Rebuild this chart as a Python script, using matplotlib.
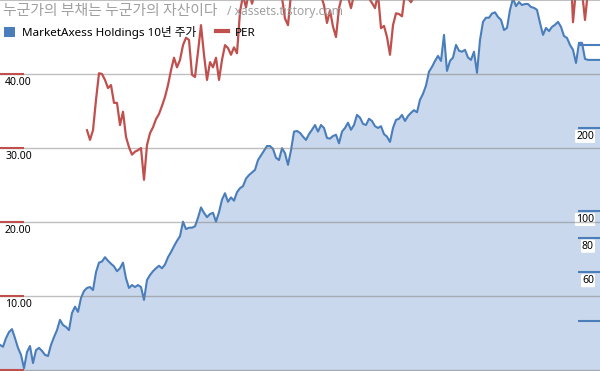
import numpy as np
import matplotlib
matplotlib.use("Agg")
import matplotlib.pyplot as plt
from matplotlib.patches import Patch
from matplotlib.lines import Line2D
from matplotlib.ticker import NullLocator

plt.rcParams['font.family'] = ['Noto Sans', 'Noto Sans CJK KR', 'DejaVu Sans']

# MarketAxess 주가 (달러, 로그축) - 대략 2~3주 간격
price = [32.7, 32.2, 34.6, 36.4, 37.3, 34.6, 31.9, 30.1, 26.9, 30.8,
         32.4, 28.1, 31.3, 31.9, 31.1, 30.1, 29.8, 32.7, 34.9, 37.0,
         40.3, 38.6, 38.0, 37.0, 42.7, 45.0, 43.1, 48.4, 51.3, 52.6,
         53.0, 51.7, 60.0, 65.0, 65.6, 68.0, 66.0, 64.4, 63.0, 60.5,
         62.0, 65.0, 57.0, 52.6, 53.9, 53.0, 53.9, 53.0, 47.6, 56.2,
         58.6, 60.5, 62.0, 63.3, 62.0, 64.0, 68.0, 71.0, 74.5, 78.0,
         81.0, 91.5, 86.0, 87.0, 87.0, 88.0, 94.5, 103, 98.5, 95.0,
         97.5, 98.5, 91.5, 99.0, 110, 116, 108, 112, 109, 117,
         121, 123, 131, 135, 138, 141, 153, 159, 165, 172,
         172, 168, 156, 153, 169, 162, 147, 166, 194, 195,
         192, 186, 181, 190, 197, 205, 194, 205, 200, 184,
         183, 187, 189, 176, 194, 200, 209, 197, 205, 223,
         218, 207, 205, 216, 212, 203, 200, 203, 190, 186,
         178, 200, 214, 216, 223, 212, 221, 227, 232, 228,
         253, 266, 285, 320, 333, 350, 365, 350, 435, 322,
         350, 360, 400, 381, 378, 384, 360, 353, 378, 317,
         417, 485, 502, 502, 520, 525, 505, 493, 453, 461,
         536, 590, 553, 572, 558, 563, 563, 549, 545, 536,
         481, 435, 461, 449, 465, 473, 485, 465, 431, 424,
         400, 384, 344, 407, 407, 356, 353, 353, 353, 353,
         353]

# PER (첫 값은 30번째 시점부터)
per_first = 29
per = [32.4, 31.1, 32.4, 36.5, 40.1, 40.0, 39.2, 38.1, 38.5, 36.1,
       36.1, 33.1, 34.9, 31.5, 30.1, 29.1, 29.5, 29.7, 30.0, 25.7,
       30.4, 32.0, 32.8, 33.9, 34.6, 35.7, 36.9, 38.5, 40.5, 42.2,
       40.9, 41.9, 43.9, 44.9, 44.6, 39.9, 39.6, 43.0, 46.6, 42.6,
       39.2, 41.6, 40.9, 42.2, 39.2, 41.9, 43.9, 43.5, 42.6, 43.6,
       42.8, 48.4, 50.6, 49.0, 51.2, 49.5, 51.0, 53.5, 55.0, 54.2,
       56.0, 55.1, 53.8, 52.9, 51.4, 50.3, 47.5, 46.6, 50.8, 52.6,
       54.0, 55.8, 57.1, 55.3, 53.7, 52.4, 53.9, 52.0, 50.6, 49.3,
       46.9, 48.6, 46.4, 45.0, 48.9, 50.5, 51.8, 50.4, 48.9, 50.7,
       52.2, 53.6, 52.1, 51.3, 50.2, 49.6, 48.9, 50.8, 46.2, 46.5,
       45.0, 42.6, 46.6, 48.2, 48.1, 47.8, 51.0, 50.2, 49.7, 50.4,
       51.5, 53.2, 55.4, 57.0, 58.3, 59.6, 61.2, 60.4, 62.0, 63.5,
       61.8, 62.7, 64.0, 65.3, 64.1, 63.2, 62.5, 61.0, 60.2, 61.4,
       58.9, 62.3, 65.0, 66.8, 67.4, 68.1, 68.5, 67.2, 66.0, 63.4,
       64.2, 68.8, 71.0, 69.5, 70.4, 69.8, 70.1, 69.9, 69.0, 68.6,
       68.2, 65.5, 62.8, 63.9, 62.1, 63.0, 63.6, 64.4, 62.9, 60.7,
       59.8, 56.3, 47.0, 51.5, 52.4, 51.2, 47.3, 51.3, 53.0, 54.1,
       53.6, 53.9]

per_ticks = [0, 10, 20, 30, 40]
per_labels = ['', '10.00', '20.00', '30.00', '40.00']
price_ticks = [40, 60, 80, 100, 200, 400]
price_labels = ['', '60', '80', '100', '200', '']

blue = '#4a7ebb'
red = '#c0504d'

x_price = np.arange(len(price))
x_per = np.arange(per_first, per_first + len(per))

fig = plt.figure(figsize=(6, 3.71), dpi=100)
ax = fig.add_axes([0, 0, 1, 1])
ax2 = ax.twinx()

# 주가 (오른쪽 로그축)
ax.fill_between(x_price, price, 1, color='#c9d8ec', lw=0)
ax.plot(x_price, price, color=blue, lw=1.5)
ax.set_yscale('log')
ax.set_ylim(26.3, 582)
ax.set_xlim(0, len(price) - 1)
ax.yaxis.set_minor_locator(NullLocator())
ax.set_yticks(price_ticks)
ax.set_yticklabels([])
ax.yaxis.tick_right()
ax.tick_params(axis='y', direction='in', length=15.8, width=1.5, color=blue)
ax.set_xticks([])
for v, lab in zip(price_ticks, price_labels):
    if lab:
        ax.annotate(lab, xy=(1, v), xycoords=ax.get_yaxis_transform(),
                    xytext=(-6, -3), textcoords='offset pixels',
                    ha='right', va='top', fontsize=7.5, color='black',
                    bbox=dict(boxstyle='round,pad=0.1', fc='white', ec='none'))

# PER (왼쪽축)
ax2.plot(x_per, per, color=red, lw=1.6)
ax2.set_ylim(-0.135, 50)
ax2.yaxis.tick_left()
ax2.set_yticks(per_ticks)
ax2.set_yticklabels([])
ax2.tick_params(axis='y', direction='in', length=17.3, width=1.5, color=red)
ax2.grid(axis='y', color='#808080', alpha=0.5, lw=1)
ax2.axhline(50, color='#808080', alpha=0.5, lw=1.5)
for v, lab in zip(per_ticks, per_labels):
    if lab:
        ax2.annotate(lab, xy=(0, v), xycoords=ax2.get_yaxis_transform(),
                     xytext=(5, -3), textcoords='offset pixels',
                     ha='left', va='top', fontsize=7.5, color='black')

for a in (ax, ax2):
    for s in a.spines.values():
        s.set_visible(False)

handles = [Patch(facecolor=blue, edgecolor='none'),
           Line2D([], [], color=red, lw=3)]
ax2.legend(handles, ['MarketAxess Holdings 10년 주가', 'PER'],
           loc='upper left', bbox_to_anchor=(0.006, 0.93), ncol=2,
           frameon=False, fontsize=8.4, handlelength=1.0, handleheight=1.0,
           handletextpad=0.6, columnspacing=1.7, borderpad=0, borderaxespad=0)

fig.text(3 / 600, 1 - 11 / 371, '누군가의 부채는 누군가의 자산이다',
         fontsize=10.7, color='#a0a0a0', va='center', family=['Noto Sans CJK KR'])
fig.text(227 / 600, 1 - 11 / 371, '/ xassets.tistory.com',
         fontsize=8.7, color='#a0a0a0', va='center')

fig.savefig('out.png', dpi=100)
